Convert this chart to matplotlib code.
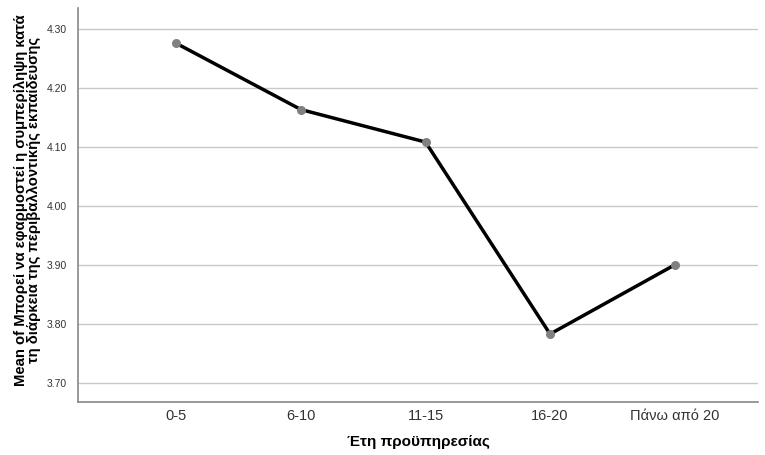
import matplotlib
matplotlib.use('Agg')
import matplotlib.pyplot as plt

## Data
categories = ['0-5', '6-10', '11-15', '16-20', 'Πάνω από 20']
means = [4.275, 4.163, 4.108, 3.783, 3.900]
yticks = [3.70, 3.80, 3.90, 4.00, 4.10, 4.20, 4.30]

plt.rcParams['font.family'] = ['Liberation Sans', 'DejaVu Sans']

fig = plt.figure(figsize=(7.65, 4.55), dpi=100)
ax = fig.add_axes([0.1020, 0.1165, 0.8889, 0.8660])

x = list(range(len(categories)))
ax.plot(x, means, color='black', linewidth=2.5, zorder=3)
ax.scatter(x, means, s=30, color='#808080', zorder=4)

ax.set_xlim(-0.79, 4.67)
ax.set_ylim(3.668, 4.335)
ax.set_xticks(x)
ax.set_xticklabels(categories, fontsize=10.5, color='#333333')
ax.set_yticks(yticks)
ax.set_yticklabels(['%.2f' % v for v in yticks], fontsize=7.5, color='#333333')
ax.tick_params(length=0, pad=8)
ax.tick_params(axis='x', pad=5)

ax.yaxis.grid(True, color='#c8c8c8', linewidth=1)
ax.set_axisbelow(True)
for s in ['top', 'right']:
    ax.spines[s].set_visible(False)
for s in ['left', 'bottom']:
    ax.spines[s].set_color('#888888')
    ax.spines[s].set_linewidth(1.2)

ax.set_xlabel('Έτη προϋπηρεσίας', fontsize=11, fontweight='bold')
ax.xaxis.set_label_coords(0.5, -0.085)
ax.set_ylabel('Mean of Μπορεί να εφαρμοστεί η συμπερίληψη κατά\nτη διάρκεια της περιβαλλοντικής εκπαίδευσης',
              fontsize=10.7, fontweight='bold', linespacing=0.95)
ax.yaxis.set_label_coords(-0.054, 0.512)

fig.savefig('out.png', dpi=100)
